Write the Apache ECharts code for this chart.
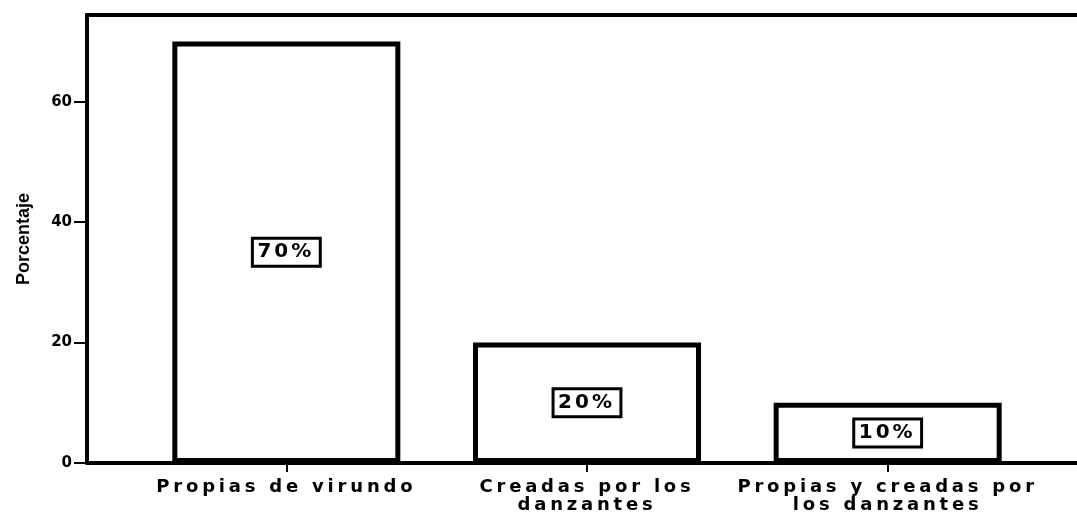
<!DOCTYPE html>
<html>
<head>
<meta charset="utf-8">
<script src="https://cdn.jsdelivr.net/npm/echarts@6/dist/echarts.min.js"></script>
<style>
html,body{margin:0;padding:0;background:#fff;}
#c{width:1077px;height:515px;}
</style>
</head>
<body>
<div id="c"></div>
<script>
const categories = ['Propias de virundo', 'Creadas por los\ndanzantes', 'Propias y creadas por\nlos danzantes'];
const values = [70, 20, 10];
const valueLabels = ['70%', '20%', '10%'];
const yTicks = [0, 20, 40, 60];
const yName = 'Porcentaje';

// letter spacing for the wide, spaced-out lettering of the original (style only)
const catLines = new Set(categories.join('\n').split('\n'));
const origFill = CanvasRenderingContext2D.prototype.fillText;
CanvasRenderingContext2D.prototype.fillText = function (text, x, y, w) {
  const s = String(text).trim();
  let sp = null;
  if (catLines.has(s)) sp = '3.8px';
  else if (valueLabels.indexOf(s) >= 0) sp = '3px';
  if (sp && 'letterSpacing' in this) {
    const prev = this.letterSpacing;
    this.letterSpacing = sp;
    const r = w === undefined ? origFill.call(this, text, x, y) : origFill.call(this, text, x, y, w);
    this.letterSpacing = prev;
    return r;
  }
  return w === undefined ? origFill.call(this, text, x, y) : origFill.call(this, text, x, y, w);
};

const YMAX = 74.4;
const chart = echarts.init(document.getElementById('c'), null, {renderer: 'canvas'});
chart.setOption({
  backgroundColor: '#fff',
  animation: false,
  grid: [
    {left: 87, right: 0, top: 15, bottom: 52, containLabel: false, outerBoundsMode: 'none'},
    {left: 136, right: 39, top: 15, bottom: 52, containLabel: false, outerBoundsMode: 'none'}
  ],
  xAxis: [
    {gridIndex: 0, type: 'value', min: 0, max: 1, position: 'bottom',
     axisLine: {show: true, lineStyle: {color: '#000', width: 4}},
     axisTick: {show: false}, axisLabel: {show: false}, splitLine: {show: false}},
    {gridIndex: 0, type: 'value', min: 0, max: 1, position: 'top',
     axisLine: {show: true, lineStyle: {color: '#000', width: 4}},
     axisTick: {show: false}, axisLabel: {show: false}, splitLine: {show: false}},
    {gridIndex: 1, type: 'category', data: categories, position: 'bottom',
     axisLine: {show: false},
     axisTick: {show: true, alignWithLabel: true, length: 9, lineStyle: {color: '#000', width: 2}},
     axisLabel: {color: '#000', fontFamily: 'DejaVu Sans', fontWeight: 'bold', fontSize: 18,
                 lineHeight: 18, margin: 15, interval: 0}}
  ],
  yAxis: [
    {gridIndex: 0, type: 'value', min: 0, max: YMAX, interval: 20,
     name: yName, nameLocation: 'middle', nameGap: 54, nameRotate: 90,
     nameTextStyle: {color: '#000', fontFamily: 'Liberation Sans', fontWeight: 'bold', fontSize: 18},
     axisLine: {show: true, lineStyle: {color: '#000', width: 4}},
     axisTick: {show: true, length: 13, customValues: yTicks, lineStyle: {color: '#000', width: 2}},
     axisLabel: {color: '#000', fontFamily: 'DejaVu Sans', fontWeight: 'bold', fontSize: 15, margin: 15,
                 customValues: yTicks},
     splitLine: {show: false}},
    {gridIndex: 1, type: 'value', min: 0, max: YMAX, show: false}
  ],
  series: [{
    type: 'bar',
    xAxisIndex: 2, yAxisIndex: 1,
    data: values,
    barWidth: 228,
    itemStyle: {color: '#fff', borderColor: '#000', borderWidth: 5},
    label: {
      show: true, position: 'inside',
      formatter: p => valueLabels[p.dataIndex],
      color: '#000', fontFamily: 'DejaVu Sans', fontWeight: 'bold', fontSize: 20,
      backgroundColor: '#fff', borderColor: '#000', borderWidth: 3, padding: [3, 9, 2, 8]
    }
  }]
});
</script>
</body>
</html>
